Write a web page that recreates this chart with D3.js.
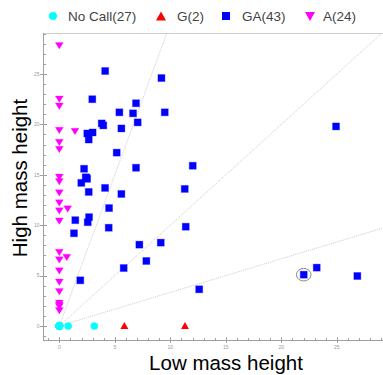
<!DOCTYPE html>
<html><head><meta charset="utf-8">
<script src="https://cdn.jsdelivr.net/npm/d3@7"></script>
<style>body{margin:0;background:#fff}svg{display:block}text{font-family:"Liberation Sans",Arial,sans-serif}</style>
</head><body><svg id="c" width="383" height="375"></svg>
<script>
// ---- data ----
const seriesNames = ["No Call(27)", "G(2)", "GA(43)", "A(24)"];
const noCallX = [0,0,0,0,0,0,0,0,0,0,0,0,0,0,0,0,0,0,0,0,0,0,0,0,0,0.8,3.15];
const noCallY = [0,0,0,0,0,0,0,0,0,0,0,0,0,0,0,0,0,0,0,0,0,0,0,0,0,0,0];
const gX = [5.86, 11.32];
const gY = [0, 0];
const gaX = [4.13,2.97,6.91,5.41,6.64,9.2,9.5,3.82,3.96,7.06,5.59,2.52,3.0,2.65,5.17,2.23,6.91,2.38,2.5,1.98,4.12,2.65,5.59,4.48,1.44,2.68,2.56,4.45,1.32,7.21,9.14,7.84,5.8,1.89,12.02,11.3,11.39,12.6,24.93,23.19,22.02,26.85,2.45];
const gaY = [25.3,22.5,22.1,21.2,21.1,24.6,21.2,20.1,19.9,20.2,19.6,19.1,19.2,18.5,17.2,15.6,15.7,14.75,14.6,14.2,13.7,13.3,13.1,11.7,10.5,10.8,10.3,9.75,9.2,8.07,8.27,6.45,5.75,4.53,15.9,13.6,9.85,3.64,19.8,5.79,5.09,4.96,14.7];
const aX = [0,0,0,0,1.41,0,0,0,0,0,0,0,0.75,0,0,0,0.67,0,0,0,0,0,0,0];
const aY = [27.8,22.5,21.8,19.4,19.3,18.2,17.5,14.75,14.3,13.2,12.2,11.4,11.6,10.4,7.3,6.55,6.8,5.45,4.33,3.4,2.25,1.9,1.5,2.05];
const refSlopes = [3, 1, 1/3];
const highlightX = [22.02], highlightY = [5.09];
const xMajorTicks = [0,5,10,15,20,25];
const yMajorTicks = [0,5,10,15,20,25];
const xTitle = "Low mass height", yTitle = "High mass height";

// ---- layout ----
const svg = d3.select("#c");
const L = 43, R = 383, T = 33, B = 340;
const x = d3.scaleLinear().domain([-1.47, 29.16]).range([L, R]);
const y = d3.scaleLinear().domain([-1.39, 29.07]).range([B, T]);
const axisCol = "#a0a0a0";

svg.append("defs").append("clipPath").attr("id","clip")
  .append("rect").attr("x",L).attr("y",T).attr("width",R-L).attr("height",B-T);

// frame
svg.append("line").attr("x1",L).attr("x2",R).attr("y1",T+0.5).attr("y2",T+0.5).attr("stroke","#cfcfcf");
svg.append("line").attr("x1",L+0.5).attr("x2",L+0.5).attr("y1",T).attr("y2",B).attr("stroke",axisCol);
svg.append("line").attr("x1",L).attr("x2",R).attr("y1",B+0.5).attr("y2",B+0.5).attr("stroke",axisCol);

// x ticks
const xMinor = d3.range(-1, 30, 1);
svg.append("g").selectAll("line").data(xMinor).join("line")
  .attr("x1",d=>Math.round(x(d))+0.5).attr("x2",d=>Math.round(x(d))+0.5)
  .attr("y1",B-2).attr("y2",B+1).attr("stroke",axisCol);
svg.append("g").selectAll("line").data(xMajorTicks).join("line")
  .attr("x1",d=>Math.round(x(d))+0.5).attr("x2",d=>Math.round(x(d))+0.5)
  .attr("y1",B-3).attr("y2",B+3).attr("stroke",axisCol);
svg.append("g").selectAll("text").data(xMajorTicks).join("text")
  .attr("x",d=>x(d)).attr("y",B+9).attr("text-anchor","middle")
  .attr("font-size",5).attr("fill","#999").text(d=>d);

// y ticks
const yMinor = d3.range(-1, 30, 1);
svg.append("g").selectAll("line").data(yMinor).join("line")
  .attr("y1",d=>Math.round(y(d))+0.5).attr("y2",d=>Math.round(y(d))+0.5)
  .attr("x1",L).attr("x2",L+3).attr("stroke",axisCol);
svg.append("g").selectAll("line").data(yMajorTicks).join("line")
  .attr("y1",d=>Math.round(y(d))+0.5).attr("y2",d=>Math.round(y(d))+0.5)
  .attr("x1",L-3).attr("x2",L+4).attr("stroke",axisCol);
svg.append("g").selectAll("text").data(yMajorTicks).join("text")
  .attr("x",L-3.5).attr("y",d=>y(d)+1.8).attr("text-anchor","end")
  .attr("font-size",5).attr("fill","#999").text(d=>d);

// reference lines
const gRef = svg.append("g").attr("clip-path","url(#clip)");
refSlopes.forEach(s=>{
  const xe = 40;
  gRef.append("line").attr("x1",x(0)).attr("y1",y(0)).attr("x2",x(xe)).attr("y2",y(xe*s))
    .attr("stroke","#cccccc").attr("stroke-width",1).attr("stroke-dasharray","1,1");
});

// marker paths
function tri(cx, cy, w, h, down){
  return down ? `M${cx-w/2},${cy-h/2}L${cx+w/2},${cy-h/2}L${cx},${cy+h/2}Z`
              : `M${cx-w/2},${cy+h/2}L${cx+w/2},${cy+h/2}L${cx},${cy-h/2}Z`;
}
const pts = (xs, ys) => xs.map((v,i)=>({x:v, y:ys[i]}));

const gp = svg.append("g");
gp.selectAll("circle.nc").data(pts(noCallX,noCallY)).join("circle")
  .attr("cx",d=>x(d.x)).attr("cy",d=>y(d.y)).attr("r",3.6)
  .attr("fill","#00ffff").attr("stroke","rgba(0,255,255,0.35)").attr("stroke-width",1);
gp.selectAll("path.g").data(pts(gX,gY)).join("path")
  .attr("d",d=>tri(x(d.x), y(d.y)-0.5, 8, 7, false)).attr("fill","#ff0000");
gp.selectAll("rect.ga").data(pts(gaX,gaY)).join("rect")
  .attr("x",d=>x(d.x)-3.5).attr("y",d=>y(d.y)-3.5).attr("width",7).attr("height",7)
  .attr("fill","#0000ff").attr("stroke","rgba(0,0,255,0.3)").attr("stroke-width",1);
gp.selectAll("path.a").data(pts(aX,aY)).join("path")
  .attr("d",d=>tri(x(d.x), y(d.y), 8, 6.5, true)).attr("fill","#ff00ff")
  .attr("stroke","rgba(255,0,255,0.3)").attr("stroke-width",0.8);

// highlight ring
svg.append("g").selectAll("ellipse").data(pts(highlightX,highlightY)).join("ellipse")
  .attr("cx",d=>x(d.x)).attr("cy",d=>y(d.y)).attr("rx",7.3).attr("ry",6.3)
  .attr("fill","none").attr("stroke","#888").attr("stroke-width",1);

// legend
const lg = svg.append("g");
const lgY = 16;
lg.append("circle").attr("cx",53).attr("cy",lgY).attr("r",4).attr("fill","#00ffff");
lg.append("path").attr("d",tri(161,lgY,10,9,false)).attr("fill","#ff0000");
lg.append("rect").attr("x",222).attr("y",lgY-4).attr("width",8).attr("height",8).attr("fill","#0000ff");
lg.append("path").attr("d",tri(310,lgY+0.5,10,9,true)).attr("fill","#ff00ff");
const lgTx = [68, 177, 242, 323];
lg.selectAll("text").data(seriesNames).join("text")
  .attr("x",(d,i)=>lgTx[i]).attr("y",lgY+5).attr("font-size",13.5).attr("fill","#444").text(d=>d);

// axis titles
svg.append("text").attr("x",226).attr("y",370).attr("text-anchor","middle")
  .attr("font-size",20.5).attr("fill","#000").text(xTitle);
svg.append("text").attr("transform","translate(27,178) rotate(-90)").attr("text-anchor","middle")
  .attr("font-size",20.5).attr("fill","#000").text(yTitle);
</script></body></html>
